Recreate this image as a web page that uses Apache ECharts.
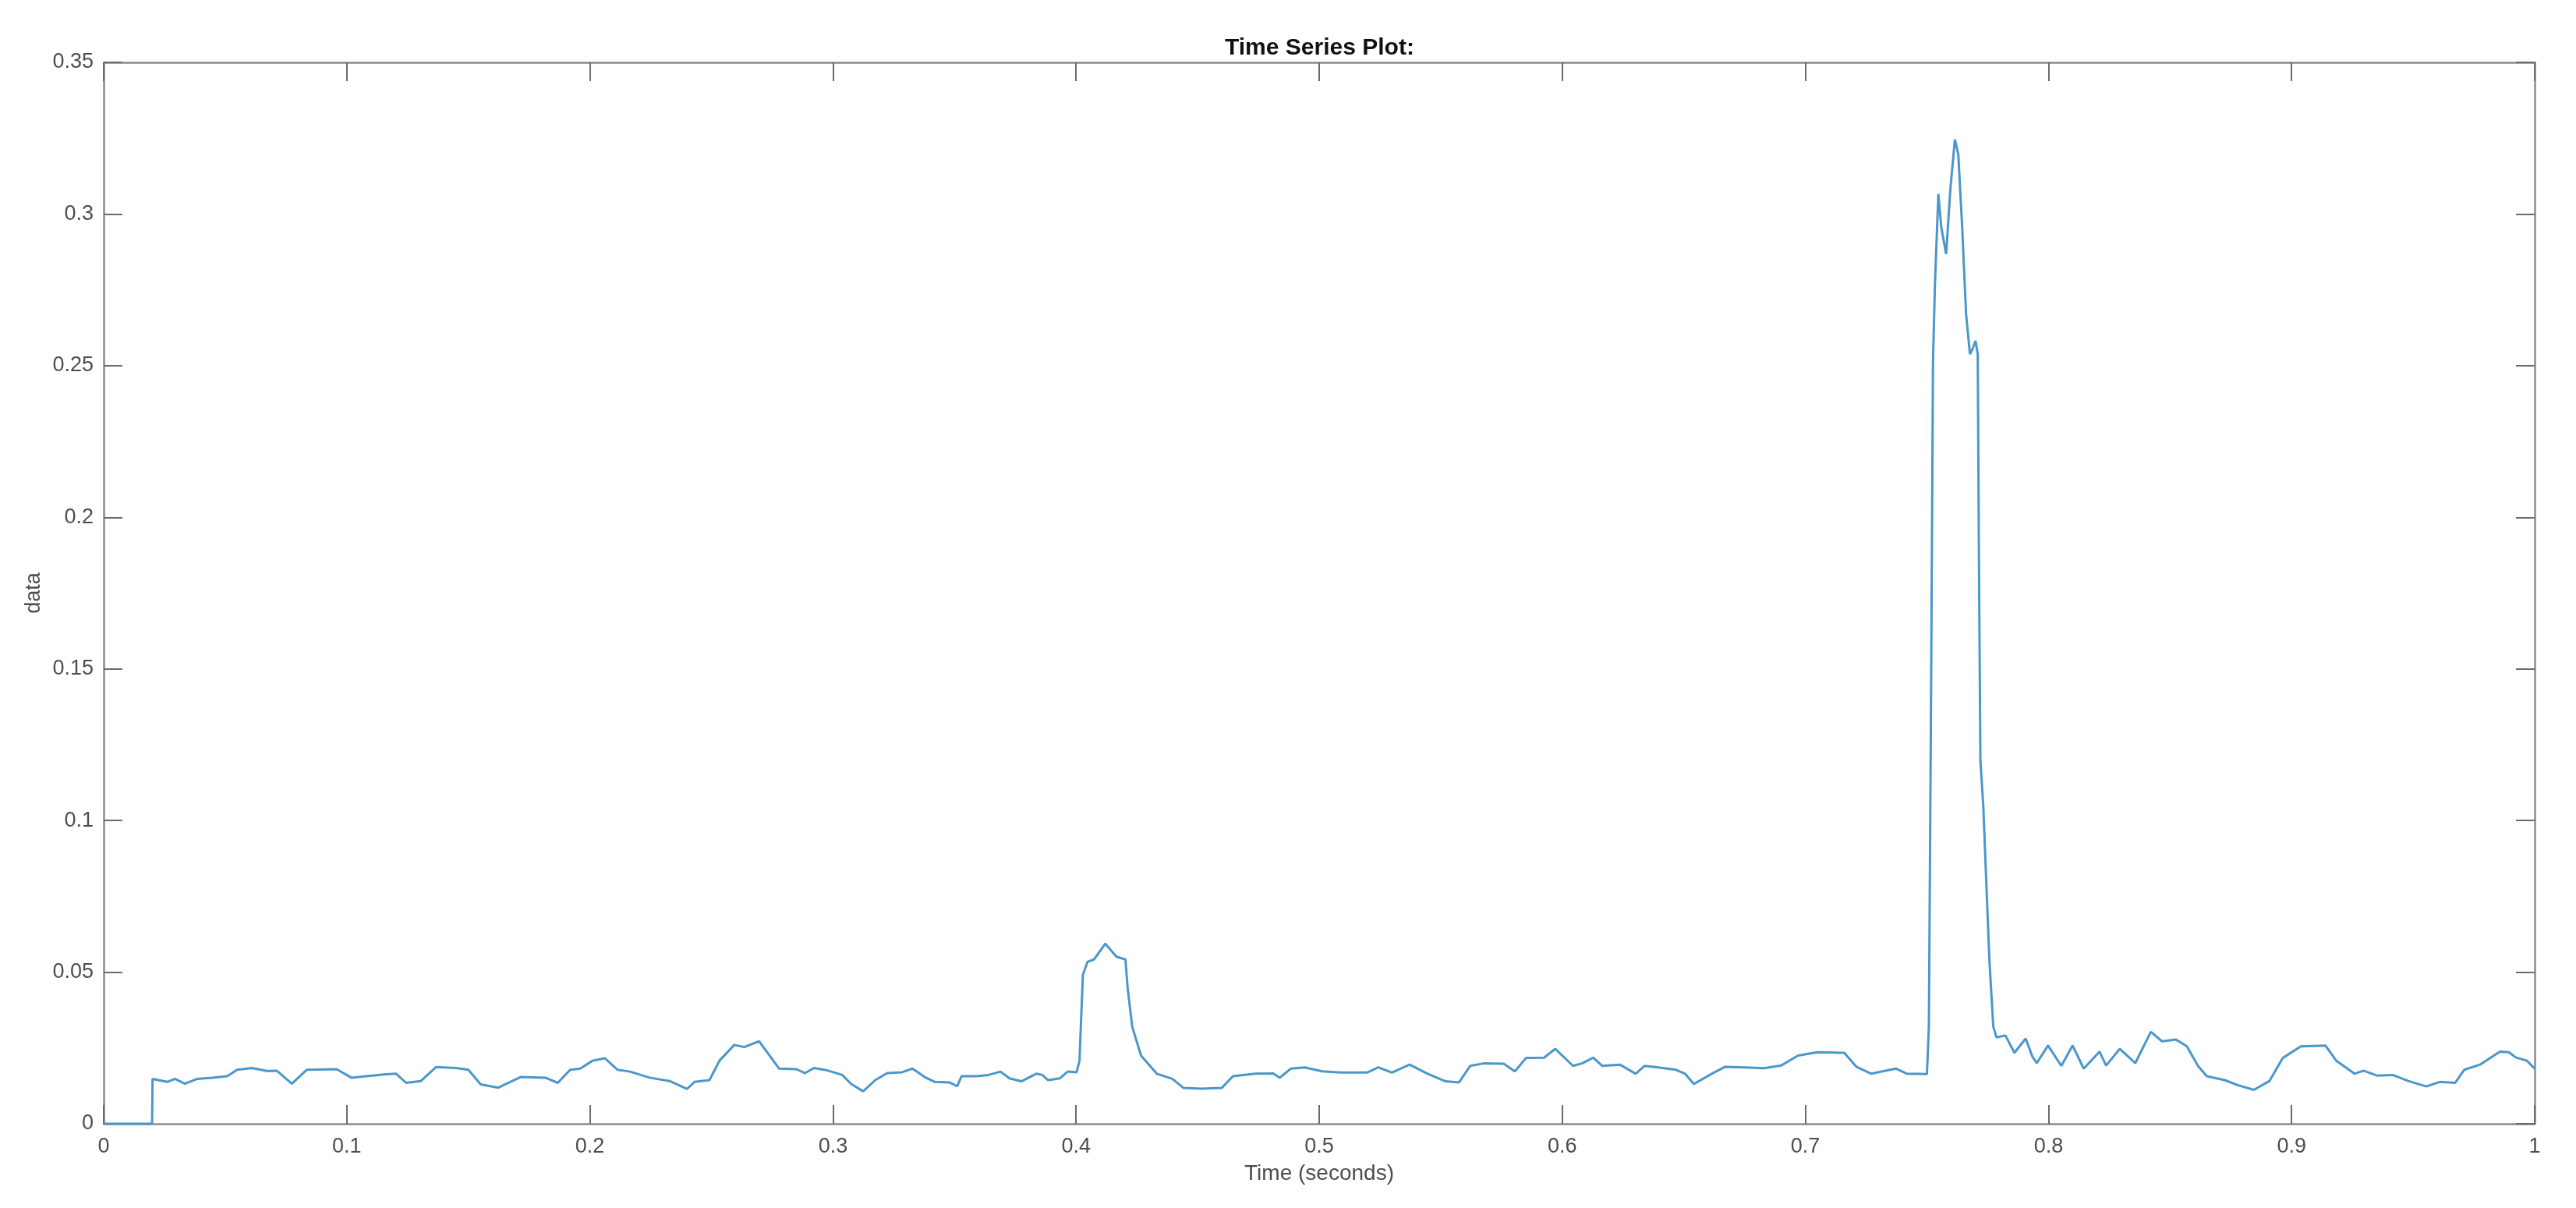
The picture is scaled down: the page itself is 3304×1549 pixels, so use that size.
<!DOCTYPE html>
<html>
<head>
<meta charset="utf-8">
<title>Time Series Plot</title>
<script src="https://cdn.jsdelivr.net/npm/echarts@6/dist/echarts.min.js"></script>
<style>
  html, body { margin: 0; padding: 0; background: #fff; }
  #chart { width: 3304px; height: 1549px; }
</style>
</head>
<body>
<div id="chart"></div>
<script>
var times = [
  0, 0.0199, 0.0201, 0.0262, 0.0293, 0.0334, 0.0385, 0.0446, 0.0508, 0.0549,
  0.061, 0.0671, 0.0712, 0.0774, 0.0835, 0.0958, 0.1019, 0.108, 0.1162, 0.1203,
  0.1244, 0.1305, 0.1367, 0.1449, 0.15, 0.1551, 0.1623, 0.1715, 0.1817, 0.1868,
  0.1919, 0.196, 0.2011, 0.2062, 0.2114, 0.2165, 0.2246, 0.2328, 0.24, 0.243,
  0.2492, 0.2533, 0.2594, 0.2635, 0.2696, 0.2778, 0.285, 0.2885, 0.2922, 0.2977,
  0.3038, 0.3075, 0.3124, 0.3174, 0.3223, 0.3284, 0.3327, 0.3382, 0.3419, 0.348,
  0.3511, 0.3529, 0.3591, 0.364, 0.3689, 0.3726, 0.3775, 0.3836, 0.3861, 0.3885,
  0.3934, 0.3965, 0.4002, 0.4014, 0.4028, 0.4047, 0.4074, 0.412, 0.4166, 0.4203,
  0.4212, 0.4231, 0.4267, 0.4332, 0.4396, 0.4442, 0.4516, 0.4599, 0.4645, 0.4737,
  0.4811, 0.4838, 0.4884, 0.494, 0.5013, 0.5087, 0.5197, 0.5243, 0.5299, 0.5372,
  0.5446, 0.552, 0.5575, 0.5621, 0.5676, 0.5759, 0.5805, 0.5851, 0.5925, 0.5971,
  0.6044, 0.6081, 0.6127, 0.6164, 0.6237, 0.6302, 0.6339, 0.6394, 0.6468, 0.6505,
  0.6541, 0.6615, 0.667, 0.675, 0.683, 0.69, 0.697, 0.705, 0.716, 0.721,
  0.7271, 0.7372, 0.7418,
  0.75, 0.7508, 0.7517, 0.7525, 0.7533, 0.7547, 0.7559, 0.7579, 0.7597, 0.7615,
  0.7629, 0.7645, 0.7661, 0.7677, 0.769, 0.77, 0.7709, 0.7714, 0.772, 0.7732,
  0.7746, 0.7757, 0.7773, 0.7786, 0.7823, 0.786, 0.7906, 0.7934, 0.7952, 0.7998,
  0.8053, 0.8099, 0.8145, 0.821, 0.8237, 0.8293, 0.8357, 0.8421, 0.8467, 0.8523,
  0.8569, 0.8615, 0.8651, 0.8725, 0.878, 0.8845, 0.8909, 0.8964, 0.9038, 0.9139,
  0.9185, 0.9259, 0.9296, 0.9351, 0.9416, 0.948, 0.9554, 0.9609, 0.9673, 0.971,
  0.9775, 0.9857, 0.9894, 0.9922, 0.9968, 1.0
];
var values = [
  0, 0, 0.0148, 0.0138, 0.0148, 0.0132, 0.0148, 0.0152, 0.0157, 0.0178,
  0.0184, 0.0174, 0.0175, 0.0132, 0.0178, 0.018, 0.0152, 0.0157, 0.0163, 0.0165,
  0.0135, 0.0141, 0.0187, 0.0184, 0.0178, 0.013, 0.0119, 0.0154, 0.0152, 0.0135,
  0.0178, 0.0182, 0.0208, 0.0216, 0.0178, 0.0172, 0.0152, 0.0141, 0.0115, 0.0138,
  0.0144, 0.0208, 0.026, 0.0253, 0.0272, 0.0182, 0.018, 0.0167, 0.0184, 0.0176,
  0.0161, 0.0131, 0.0107, 0.0144, 0.0167, 0.017, 0.0182, 0.0152, 0.0138, 0.0136,
  0.0124, 0.0157, 0.0157, 0.0161, 0.0172, 0.015, 0.014, 0.0165, 0.0161, 0.0144,
  0.015, 0.0172, 0.017, 0.0208, 0.0491, 0.0534, 0.0542, 0.0594, 0.0551, 0.0542,
  0.0448, 0.032, 0.0225, 0.0165, 0.0148, 0.0118, 0.0116, 0.0118, 0.0157, 0.0165,
  0.0166, 0.0152, 0.0182, 0.0186, 0.0173, 0.0169, 0.0169, 0.0186, 0.0169, 0.0195,
  0.0165, 0.014, 0.0136, 0.0191, 0.0199, 0.0198, 0.0173, 0.0217, 0.0218, 0.0247,
  0.0191, 0.0199, 0.0218, 0.0191, 0.0195, 0.0165, 0.0191, 0.0186, 0.0178, 0.0165,
  0.0131, 0.0165, 0.0188, 0.0186, 0.0183, 0.0192, 0.0225, 0.0236, 0.0234, 0.0188,
  0.0165, 0.0182, 0.0165,
  0.0164, 0.032, 0.1418, 0.2516, 0.2769, 0.3066, 0.2956, 0.2868, 0.3088, 0.3246,
  0.3197, 0.2956, 0.267, 0.2538, 0.256, 0.2582, 0.2538, 0.1857, 0.1198, 0.1045,
  0.0759, 0.0539, 0.032, 0.0285, 0.0291, 0.0234, 0.0281, 0.0221, 0.02, 0.0258,
  0.0191, 0.0258, 0.0182, 0.0238, 0.0192, 0.0247, 0.02, 0.0303, 0.0272, 0.0278,
  0.0256, 0.0191, 0.0157, 0.0144, 0.0127, 0.0112, 0.0141, 0.0217, 0.0255, 0.0258,
  0.0207, 0.0165, 0.0175, 0.0159, 0.0161, 0.0141, 0.0123, 0.0138, 0.0135, 0.0178,
  0.0195, 0.0238, 0.0236, 0.0219, 0.0208, 0.0182
];
var xTicks = [0, 0.1, 0.2, 0.3, 0.4, 0.5, 0.6, 0.7, 0.8, 0.9, 1];
var yTicks = [0, 0.05, 0.1, 0.15, 0.2, 0.25, 0.3, 0.35];

var chart = echarts.init(document.getElementById('chart'));

var axisGray = '#8c8c8c';
var labelGray = '#4d4d4d';
var font = 'Liberation Sans, Arial, Helvetica, sans-serif';

var points = times.map(function (t, i) { return [t, values[i]]; });

function boxAxis(kind, pos, showLabel) {
  var isX = kind === 'x';
  var ticks = isX ? xTicks : yTicks;
  return {
    type: 'value',
    position: pos,
    min: ticks[0],
    max: ticks[ticks.length - 1],
    interval: ticks[1] - ticks[0],
    splitLine: { show: false },
    axisLine: { show: true, onZero: false, lineStyle: { color: axisGray, width: 2.5 } },
    axisTick: { show: true, inside: true, length: 24, lineStyle: { color: '#6a6a6a', width: 2 } },
    axisLabel: {
      show: showLabel,
      color: labelGray,
      fontFamily: font,
      fontSize: 27,
      margin: isX ? 16 : 13,
      showMinLabel: true,
      showMaxLabel: true
    }
  };
}

var xMain = boxAxis('x', 'bottom', true);
xMain.name = 'Time (seconds)';
xMain.nameLocation = 'middle';
xMain.nameGap = 50;
xMain.nameTextStyle = { color: labelGray, fontFamily: font, fontSize: 28 };

var yMain = boxAxis('y', 'left', true);
yMain.name = 'data';
yMain.nameLocation = 'middle';
yMain.nameRotate = 90;
yMain.nameGap = 76;
yMain.nameTextStyle = { color: labelGray, fontFamily: font, fontSize: 27 };

var option = {
  backgroundColor: '#ffffff',
  animation: false,
  title: {
    text: 'Time Series Plot:',
    left: 1566,
    top: 42,
    textStyle: { color: '#111', fontFamily: font, fontSize: 30, fontWeight: 'bold' }
  },
  grid: { left: 133, right: 53, top: 80, bottom: 108 },
  xAxis: [xMain, boxAxis('x', 'top', false)],
  yAxis: [yMain, boxAxis('y', 'right', false)],
  series: [
    {
      type: 'line',
      xAxisIndex: 0,
      yAxisIndex: 0,
      data: points,
      showSymbol: false,
      smooth: false,
      lineStyle: { color: '#4a97cb', width: 3 }
    }
  ]
};

chart.setOption(option);
</script>
</body>
</html>
